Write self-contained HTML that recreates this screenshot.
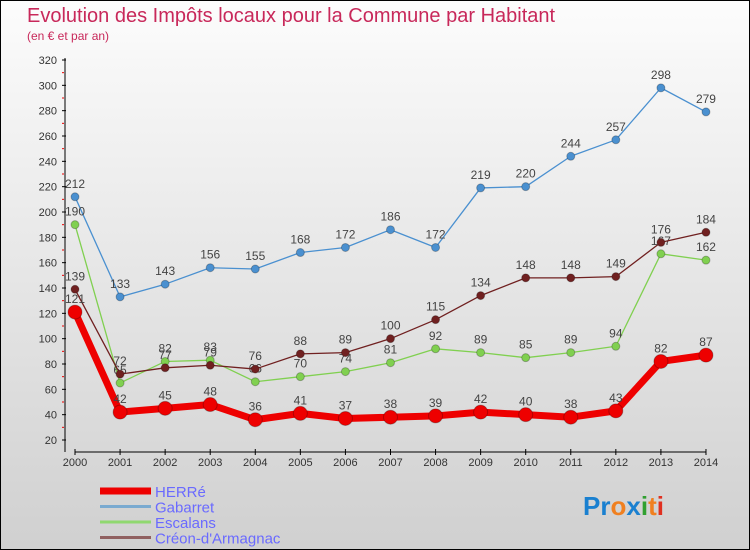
<!DOCTYPE html>
<html><head><meta charset="utf-8"><style>
body{margin:0;width:750px;height:550px;overflow:hidden;font-family:"Liberation Sans",sans-serif}
#wrap{position:relative;width:748px;height:548px;border:1px solid #000;background:linear-gradient(#fcfcfc,#d0d0d0)}
.t{position:absolute;color:#c8285a}
</style></head><body>
<div id="wrap">
<div class="t" style="left:26px;top:4px;font-size:20px">Evolution des Impôts locaux pour la Commune par Habitant</div>
<div class="t" style="left:26px;top:28px;font-size:12px">(en € et par an)</div>
<svg id="c" width="750" height="550" style="position:absolute;left:-1px;top:-1px"></svg>
</div>
<script>
const years=[2000,2001,2002,2003,2004,2005,2006,2007,2008,2009,2010,2011,2012,2013,2014];
const yTicks=[20,40,60,80,100,120,140,160,180,200,220,240,260,280,300,320];
const herre=[121,42,45,48,36,41,37,38,39,42,40,38,43,82,87];
const gabarret=[212,133,143,156,155,168,172,186,172,219,220,244,257,298,279];
const escalans=[190,65,82,83,66,70,74,81,92,89,85,89,94,167,162];
const creon=[139,72,77,79,76,88,89,100,115,134,148,148,149,176,184];
const svg=document.getElementById('c');const NS='http://www.w3.org/2000/svg';
function X(i){return 75+i*45.07}
function Y(v){return 440-(v-20)*380/300}
function mk(t,a,p){const e=document.createElementNS(NS,t);for(const k in a)e.setAttribute(k,a[k]);(p||svg).appendChild(e);return e}
const ax=mk('line',{x1:65,y1:58,x2:65,y2:452,stroke:'#000'});


const xx=mk('line',{x1:75,y1:452,x2:706,y2:452,stroke:'#000'});


yTicks.forEach(v=>{mk('line',{x1:62,y1:Y(v),x2:66,y2:Y(v),stroke:'#000'});
if(v<320)mk('line',{x1:62,y1:Y(v+10),x2:64,y2:Y(v+10),stroke:'#e00'});
const t=mk('text',{x:57,y:Y(v)+4,'text-anchor':'end','font-size':11,fill:'#333'});t.textContent=v;

});
years.forEach((y,i)=>{mk('line',{x1:X(i),y1:449,x2:X(i),y2:455,stroke:'#000'});
const t=mk('text',{x:X(i),y:466,'text-anchor':'middle','font-size':11,fill:'#333'});t.textContent=y;

});
function series(d,col,w,r,name){const g=mk('g',{});


mk('polyline',{points:d.map((v,i)=>X(i)+','+Y(v)).join(' '),fill:'none',stroke:col,'stroke-width':w,'stroke-linejoin':'round'},g);
d.forEach((v,i)=>{const c=mk('circle',{cx:X(i),cy:Y(v),r:r,fill:col,stroke:'rgba(0,0,0,0.25)'},g);


const t=mk('text',{x:X(i),y:Y(v)-9,'text-anchor':'middle','font-size':12,fill:'#444'},g);t.textContent=v;});}
series(gabarret,'#4a90d0',1.3,4,'gabarret');
series(escalans,'#80d050',1.3,4,'escalans');
series(creon,'#702020',1.3,4,'creon');
series(herre,'#ee0000',7,7,'herre');
const leg=[['HERRé','#ee0000',7],['Gabarret','#7aaad0',3],['Escalans','#90d870',3],['Créon-d\'Armagnac','#906060',3]];
leg.forEach((l,i)=>{const y=491+i*15.5;const g=mk('g',{});


mk('line',{x1:100,y1:y,x2:151,y2:y,stroke:l[1],'stroke-width':l[2]},g);
const t=mk('text',{x:155,y:y+6,'font-size':15,fill:'#6a6aff'},g);t.textContent=l[0];});
const lg=mk('text',{x:583,y:515,'font-size':26,'font-weight':'bold','font-family':'Liberation Sans'});


[['Pr','#1a80d0'],['o','#f08020'],['x','#1a80d0'],['i','#30a030'],['t','#f08020'],['i','#e03020']].forEach(p=>{const s=mk('tspan',{fill:p[1]},lg);s.textContent=p[0];});
</script>
</body></html>
